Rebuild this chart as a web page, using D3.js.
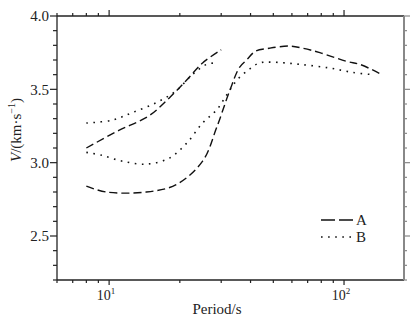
<!DOCTYPE html>
<html>
<head>
<meta charset="utf-8">
<script src="https://cdn.jsdelivr.net/npm/d3@7"></script>
<style>
  body { margin: 0; background: #fff; }
  text { font-family: "Liberation Serif", "DejaVu Serif", serif; fill: #222; }
</style>
</head>
<body>
<div id="chart"></div>
<script>
// series A (dashed), two branches
var seriesA1 = [[8, 3.10], [11, 3.22], [14.8, 3.32], [18, 3.44], [21.3, 3.56], [25, 3.68], [30, 3.77]];
var seriesA2 = [[8, 2.84], [9.7, 2.80], [14.4, 2.80], [19.3, 2.85], [25, 3.01], [28.7, 3.24], [32.6, 3.49],
    [35.9, 3.65], [38.5, 3.70], [42, 3.76], [48, 3.78], [58.7, 3.795], [66.8, 3.78], [78.9, 3.75],
    [103, 3.69], [117, 3.67], [145, 3.60]];
// series B (dotted), two branches
var seriesB1 = [[8, 3.27], [10.3, 3.29], [12.5, 3.34], [15.9, 3.41], [19.3, 3.49], [22.6, 3.60], [26, 3.67], [28.7, 3.68]];
var seriesB2 = [[8, 3.07], [9.33, 3.05], [11.4, 3.01], [14.4, 2.99], [18, 3.03], [21.3, 3.13], [25, 3.27],
    [28.7, 3.36], [31.6, 3.46], [34.9, 3.56], [39.7, 3.64], [43.7, 3.68], [49.8, 3.685], [64.9, 3.67],
    [87.1, 3.645], [109, 3.615], [133, 3.60]];

var yMajor = [2.5, 3.0, 3.5, 4.0];
var yMinor = d3.range(22, 41).map(function (d) { return d / 10; });
var xMajor = [10, 100];
var xMinor = [6, 7, 8, 9, 20, 30, 40, 50, 60, 70, 80, 90];
var legendKeys = ["A", "B"];

var margin = {top: 16, right: 12, bottom: 45, left: 57};
var width = 416 - margin.left - margin.right;
var height = 325 - margin.top - margin.bottom;

var x = d3.scaleLog().domain([6, 180]).range([0, width]);
var y = d3.scaleLinear().domain([2.2, 4.0]).range([height, 0]);

var svg = d3.select("#chart").append("svg")
    .attr("width", 416)
    .attr("height", 325)
    .append("g")
    .attr("transform", "translate(" + margin.left + "," + margin.top + ")");

// ticks
function ticks(sel, vals, len, orient, color) {
    sel.selectAll(null).data(vals).enter().append("line")
        .attr("x1", function (d) { return orient == "bottom" || orient == "top" ? x(d) : (orient == "left" ? 0 : width); })
        .attr("x2", function (d) { return orient == "bottom" || orient == "top" ? x(d) : (orient == "left" ? -len : width + len); })
        .attr("y1", function (d) { return orient == "left" || orient == "right" ? y(d) : (orient == "top" ? 0 : height); })
        .attr("y2", function (d) { return orient == "left" || orient == "right" ? y(d) : (orient == "top" ? -len : height + len); })
        .attr("stroke", color)
        .attr("stroke-width", 1.2);
}

var axes = svg.append("g");
ticks(axes, yMinor.filter(function (d) { return yMajor.indexOf(d) < 0; }), 4, "left", "#222");
ticks(axes, yMajor, 7, "left", "#222");
ticks(axes, yMinor.filter(function (d) { return yMajor.indexOf(d) < 0; }), 3, "right", "#888");
ticks(axes, yMajor, 6, "right", "#888");
ticks(axes, xMinor, 3, "bottom", "#222");
ticks(axes, xMajor, 5, "bottom", "#222");
ticks(axes, xMinor, 3, "top", "#222");
ticks(axes, xMajor, 6, "top", "#222");

axes.append("line").attr("x1", 0).attr("x2", 0).attr("y1", 0).attr("y2", height).attr("stroke", "#222").attr("stroke-width", 1.3);
axes.append("line").attr("x1", 0).attr("x2", width).attr("y1", height).attr("y2", height).attr("stroke", "#222").attr("stroke-width", 1.3);
axes.append("line").attr("x1", 0).attr("x2", width).attr("y1", 0).attr("y2", 0).attr("stroke", "#222").attr("stroke-width", 1.3);
axes.append("line").attr("x1", width).attr("x2", width).attr("y1", 0).attr("y2", height).attr("stroke", "#888").attr("stroke-width", 2);

// y tick labels
svg.append("g").selectAll("text").data(yMajor).enter().append("text")
    .attr("x", -8)
    .attr("y", function (d) { return y(d); })
    .attr("dy", "0.35em")
    .attr("text-anchor", "end")
    .style("font-size", "15px")
    .text(function (d) { return d3.format(".1f")(d); });

// x tick labels 10^n
var xl = svg.append("g").selectAll("text").data(xMajor).enter().append("text")
    .attr("x", function (d) { return x(d) - 3; })
    .attr("y", height + 20)
    .attr("text-anchor", "middle")
    .style("font-size", "14px");
xl.append("tspan").text("10");
xl.append("tspan").attr("dy", -6).style("font-size", "9px").text(function (d) { return Math.round(Math.log10(d)); });

// axis titles
svg.append("text")
    .attr("x", 160)
    .attr("y", height + 34)
    .attr("text-anchor", "middle")
    .style("font-size", "15px")
    .text("Period/s");

var yt = svg.append("text")
    .attr("transform", "translate(" + (-36) + "," + 114 + ") rotate(-90)")
    .attr("text-anchor", "middle")
    .style("font-size", "15px");
yt.append("tspan").style("font-style", "italic").text("V");
yt.append("tspan").text("/(km·s");
yt.append("tspan").attr("dy", -6).style("font-size", "10px").text("−1");
yt.append("tspan").attr("dy", 6).text(")");

// curves
var line = d3.line()
    .x(function (d) { return x(d[0]); })
    .y(function (d) { return y(d[1]); })
    .curve(d3.curveCatmullRom);

var dashA = "8,4";
var dotB = "1.6,5.5";

[seriesA1, seriesA2].forEach(function (s) {
    svg.append("path").datum(s)
        .attr("d", line)
        .attr("fill", "none")
        .attr("stroke", "#111")
        .attr("stroke-width", 1.4)
        .attr("stroke-dasharray", dashA);
});
[seriesB1, seriesB2].forEach(function (s) {
    svg.append("path").datum(s)
        .attr("d", line)
        .attr("fill", "none")
        .attr("stroke", "#111")
        .attr("stroke-width", 1.6)
        .attr("stroke-dasharray", dotB);
});

// legend
var legend = svg.append("g")
    .selectAll("g")
    .data(legendKeys)
    .enter().append("g")
    .attr("transform", function (d, i) { return "translate(264," + (204 + i * 17) + ")"; });

legend.append("line")
    .attr("x1", 0).attr("x2", 34)
    .attr("stroke", "#111")
    .attr("stroke-width", function (d, i) { return i == 0 ? 1.4 : 1.6; })
    .attr("stroke-dasharray", function (d, i) { return i == 0 ? "14,4" : dotB; });

legend.append("text")
    .attr("x", 35)
    .attr("dy", "0.35em")
    .style("font-size", "15px")
    .text(function (d) { return d; });
</script>
</body>
</html>
